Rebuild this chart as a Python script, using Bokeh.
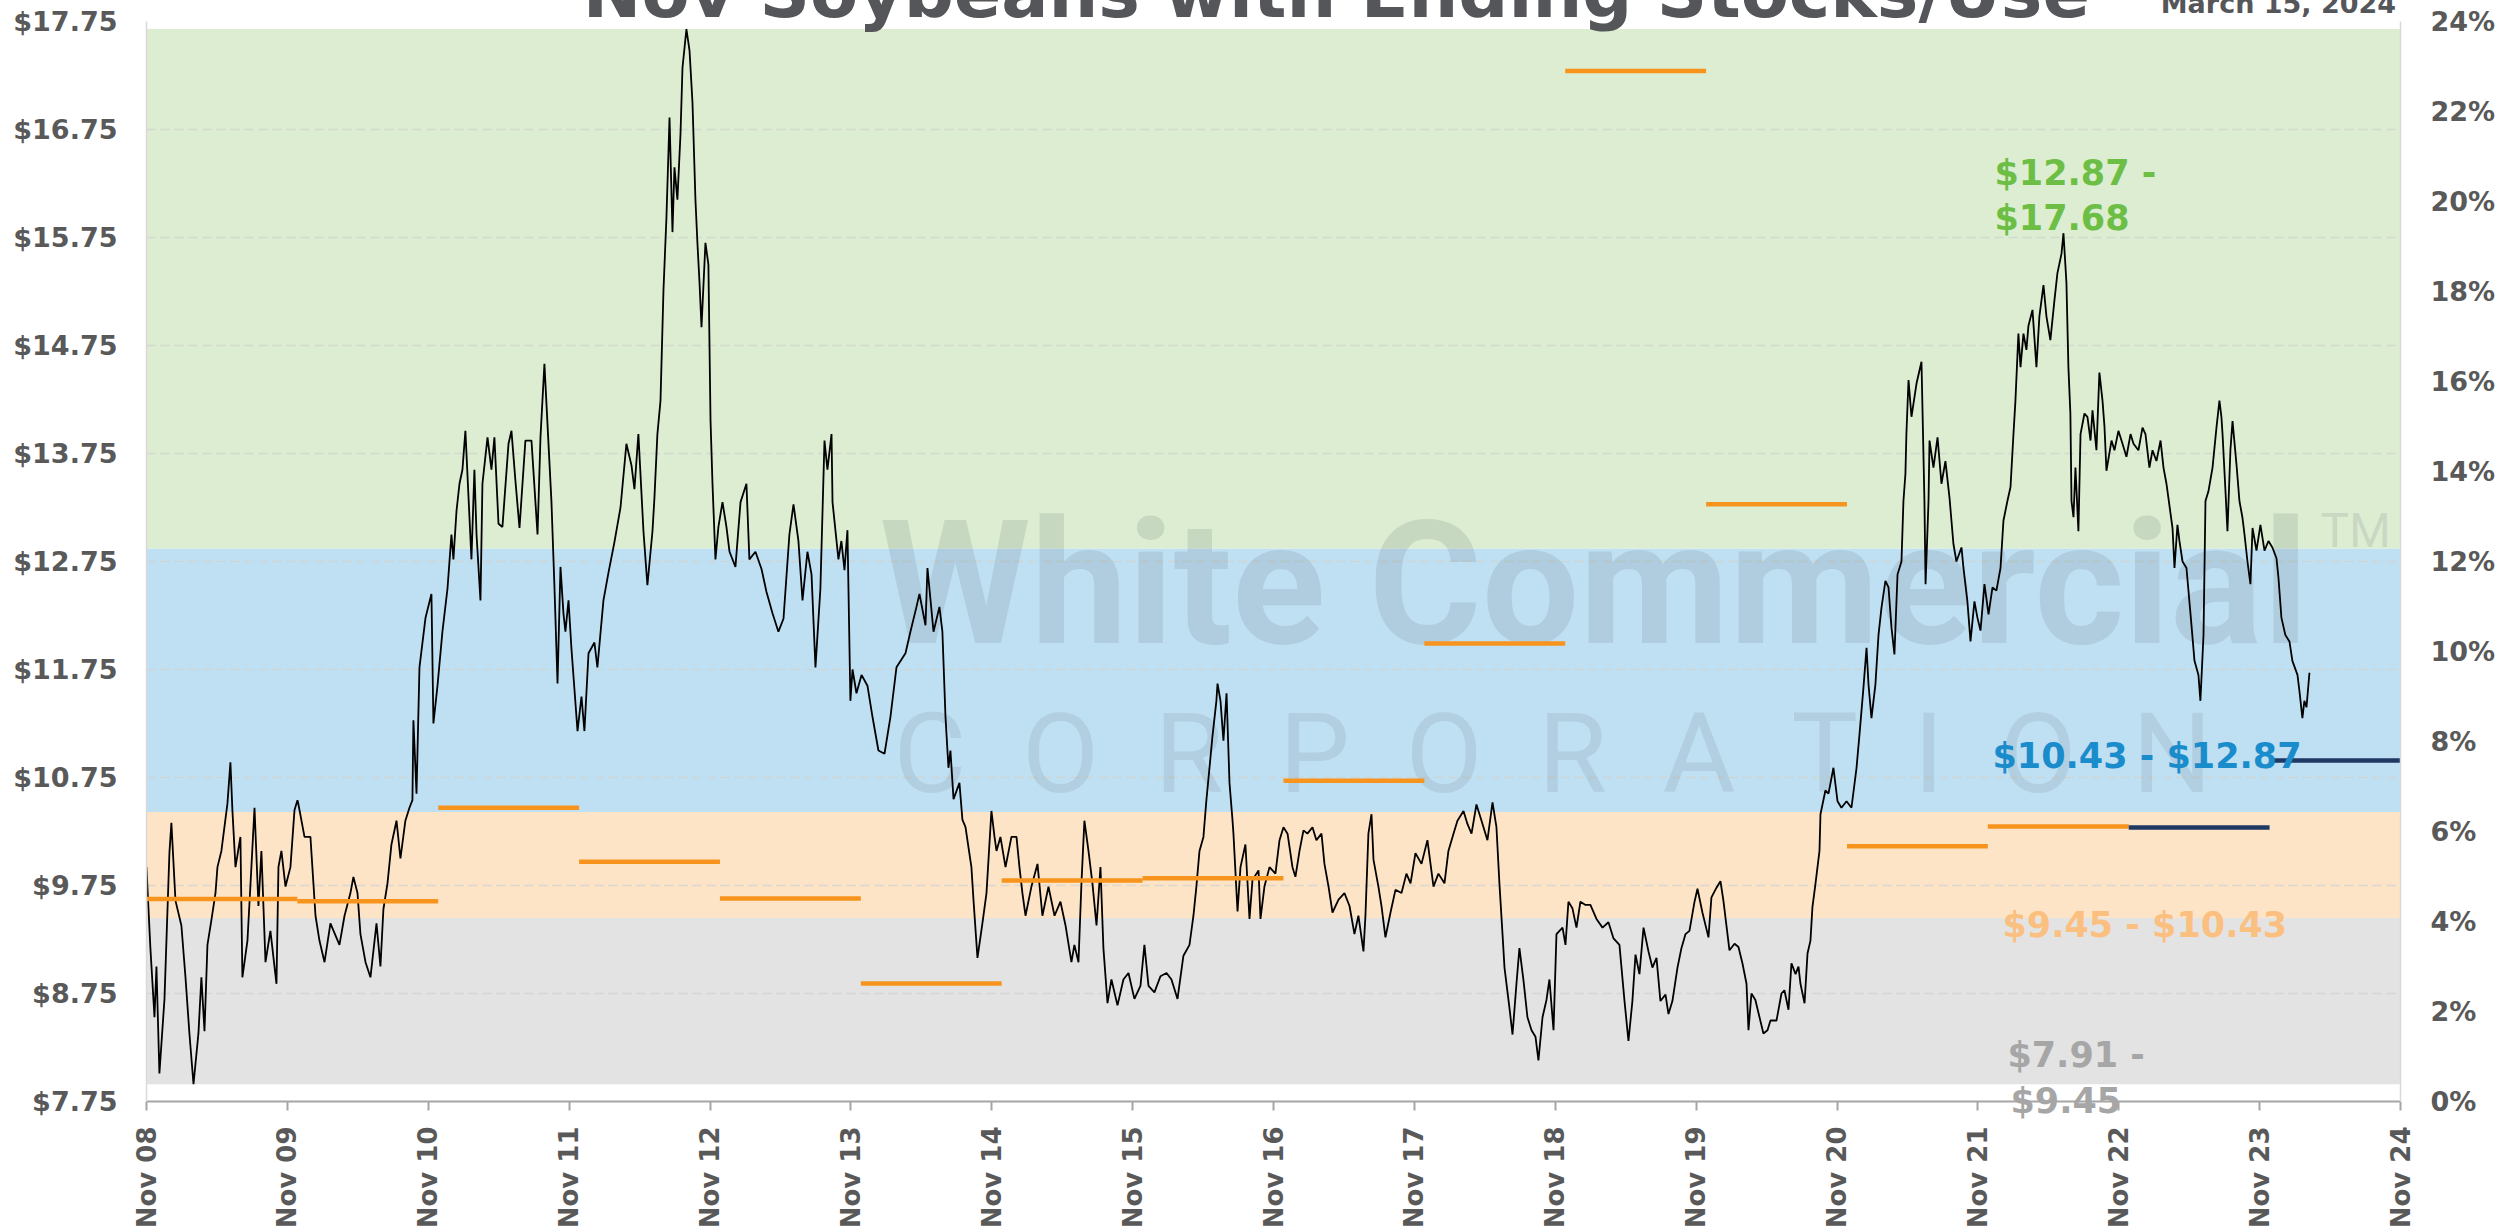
import math
from bokeh.plotting import figure
from bokeh.models import (Range1d, LinearAxis, FixedTicker, NumeralTickFormatter,
                          CustomJSTickFormatter, Label)
from bokeh.embed import file_html
from bokeh.resources import INLINE

# ---------------- data ----------------
TITLE = "Nov Soybeans with Ending Stocks/Use"
DATE_TEXT = "March 15, 2024"

tick_years = list(range(2008, 2025))          # x ticks at Nov of each year
NOV = 10 / 12                                 # Nov 1 as a fraction of the year
price_ticks = [7.75 + i for i in range(11)]   # $7.75 ... $17.75
pct_ticks = list(range(0, 25, 2))             # 0% ... 24%

# price bands ($/bu)
band_lo = [7.91, 9.45, 10.43, 12.87]
band_hi = [9.45, 10.43, 12.87, 17.68]

# ending stocks / use (%) by marketing year, start of each segment (decimal year)
su_year = ["08/09", "09/10", "10/11", "11/12", "12/13", "13/14", "14/15", "15/16",
           "16/17", "17/18", "18/19", "19/20", "20/21", "21/22", "22/23", "23/24"]
su_start = [2008.833, 2009.904, 2010.904, 2011.904, 2012.904, 2013.904, 2014.904, 2015.904,
            2016.904, 2017.904, 2018.904, 2019.904, 2020.904, 2021.904, 2022.904, 2023.904]
su_pct = [4.50, 4.45, 6.53, 5.33, 4.51, 2.62, 4.91, 4.96,
          7.13, 10.18, 22.9, 13.27, 5.67, 6.11, 6.09, 7.58]
su_status = ["final"] * 14 + ["latest"] * 2

# continuous Nov soybean futures (decimal year, $/bu)
price_t = [
 2008.833, 2008.861, 2008.890, 2008.904, 2008.925, 2008.961, 2008.975, 2008.996, 2009.010, 2009.039,
 2009.081, 2009.110, 2009.138, 2009.167, 2009.202, 2009.223, 2009.245, 2009.266, 2009.294, 2009.323,
 2009.337, 2009.365, 2009.408, 2009.429, 2009.443, 2009.465, 2009.500, 2009.514, 2009.550, 2009.578,
 2009.600, 2009.628, 2009.649, 2009.678, 2009.713, 2009.756, 2009.770, 2009.791, 2009.820, 2009.855,
 2009.884, 2009.905, 2009.912, 2009.955, 2009.997, 2010.033, 2010.061, 2010.097, 2010.139, 2010.203,
 2010.239, 2010.281, 2010.302, 2010.331, 2010.352, 2010.388, 2010.423, 2010.466, 2010.494, 2010.515,
 2010.544, 2010.572, 2010.608, 2010.636, 2010.671, 2010.700, 2010.721, 2010.728, 2010.750, 2010.771,
 2010.814, 2010.856, 2010.870, 2010.899, 2010.934, 2010.970, 2010.998, 2011.012, 2011.034, 2011.055,
 2011.076, 2011.097, 2011.140, 2011.161, 2011.176, 2011.204, 2011.218, 2011.254, 2011.282, 2011.303,
 2011.332, 2011.360, 2011.403, 2011.424, 2011.452, 2011.481, 2011.523, 2011.566, 2011.609, 2011.630,
 2011.658, 2011.708, 2011.729, 2011.751, 2011.772, 2011.793, 2011.807, 2011.829, 2011.850, 2011.893,
 2011.921, 2011.942, 2011.971, 2012.013, 2012.034, 2012.077, 2012.113, 2012.155, 2012.198, 2012.240,
 2012.276, 2012.297, 2012.325, 2012.361, 2012.389, 2012.425, 2012.439, 2012.460, 2012.482, 2012.503,
 2012.524, 2012.546, 2012.567, 2012.581, 2012.602, 2012.624, 2012.638, 2012.666, 2012.688, 2012.709,
 2012.730, 2012.744, 2012.759, 2012.773, 2012.801, 2012.822, 2012.837, 2012.851, 2012.872, 2012.893,
 2012.922, 2012.950, 2012.972, 2013.014, 2013.050, 2013.092, 2013.113, 2013.156, 2013.199, 2013.234,
 2013.277, 2013.319, 2013.355, 2013.397, 2013.426, 2013.461, 2013.490, 2013.525, 2013.554, 2013.582,
 2013.617, 2013.646, 2013.667, 2013.696, 2013.703, 2013.745, 2013.766, 2013.788, 2013.809, 2013.830,
 2013.845, 2013.873, 2013.909, 2013.951, 2013.987, 2014.029, 2014.072, 2014.114, 2014.157, 2014.221,
 2014.256, 2014.299, 2014.320, 2014.363, 2014.377, 2014.420, 2014.462, 2014.483, 2014.505, 2014.526,
 2014.540, 2014.562, 2014.604, 2014.625, 2014.647, 2014.689, 2014.704, 2014.732, 2014.767, 2014.796,
 2014.831, 2014.853, 2014.867, 2014.895, 2014.931, 2014.973, 2015.009, 2015.030, 2015.051, 2015.073,
 2015.115, 2015.158, 2015.193, 2015.236, 2015.279, 2015.321, 2015.357, 2015.399, 2015.420, 2015.449,
 2015.470, 2015.491, 2015.520, 2015.548, 2015.577, 2015.605, 2015.626, 2015.655, 2015.683, 2015.726,
 2015.768, 2015.804, 2015.846, 2015.889, 2015.917, 2015.946, 2015.988, 2016.031, 2016.074, 2016.109,
 2016.152, 2016.194, 2016.237, 2016.265, 2016.286, 2016.308, 2016.336, 2016.357, 2016.400, 2016.428,
 2016.436, 2016.457, 2016.478, 2016.500, 2016.521, 2016.542, 2016.549, 2016.578, 2016.599, 2016.634,
 2016.663, 2016.684, 2016.727, 2016.741, 2016.769, 2016.805, 2016.847, 2016.876, 2016.904, 2016.933,
 2016.968, 2016.989, 2017.018, 2017.046, 2017.074, 2017.110, 2017.138, 2017.174, 2017.195, 2017.224,
 2017.252, 2017.295, 2017.337, 2017.373, 2017.408, 2017.436, 2017.472, 2017.486, 2017.507, 2017.529,
 2017.543, 2017.578, 2017.600, 2017.628, 2017.664, 2017.699, 2017.742, 2017.777, 2017.806, 2017.841,
 2017.884, 2017.926, 2017.969, 2018.004, 2018.047, 2018.075, 2018.111, 2018.139, 2018.182, 2018.210,
 2018.239, 2018.274, 2018.310, 2018.352, 2018.388, 2018.416, 2018.437, 2018.459, 2018.473, 2018.508,
 2018.530, 2018.558, 2018.579, 2018.608, 2018.636, 2018.665, 2018.693, 2018.714, 2018.743, 2018.771,
 2018.792, 2018.821, 2018.842, 2018.885, 2018.906, 2018.927, 2018.955, 2018.984, 2019.012, 2019.048,
 2019.083, 2019.126, 2019.169, 2019.211, 2019.247, 2019.289, 2019.325, 2019.353, 2019.381, 2019.403,
 2019.431, 2019.460, 2019.495, 2019.523, 2019.552, 2019.580, 2019.616, 2019.637, 2019.665, 2019.701,
 2019.729, 2019.758, 2019.786, 2019.822, 2019.843, 2019.878, 2019.921, 2019.942, 2019.978, 2020.006,
 2020.027, 2020.070, 2020.106, 2020.134, 2020.162, 2020.191, 2020.205, 2020.226, 2020.254, 2020.276,
 2020.311, 2020.340, 2020.361, 2020.404, 2020.439, 2020.460, 2020.489, 2020.510, 2020.539, 2020.560,
 2020.574, 2020.603, 2020.624, 2020.645, 2020.659, 2020.680, 2020.709, 2020.716, 2020.751, 2020.773,
 2020.808, 2020.837, 2020.865, 2020.901, 2020.936, 2020.972, 2020.993, 2021.021, 2021.043, 2021.057,
 2021.078, 2021.106, 2021.128, 2021.149, 2021.177, 2021.199, 2021.220, 2021.241, 2021.263, 2021.291,
 2021.305, 2021.319, 2021.326, 2021.341, 2021.362, 2021.398, 2021.433, 2021.454, 2021.462, 2021.483,
 2021.490, 2021.518, 2021.547, 2021.575, 2021.603, 2021.632, 2021.660, 2021.681, 2021.717, 2021.731,
 2021.759, 2021.781, 2021.809, 2021.830, 2021.852, 2021.880, 2021.909, 2021.937, 2021.965, 2021.994,
 2022.015, 2022.043, 2022.065, 2022.086, 2022.100, 2022.121, 2022.136, 2022.157, 2022.178, 2022.192,
 2022.221, 2022.249, 2022.270, 2022.299, 2022.320, 2022.348, 2022.377, 2022.398, 2022.427, 2022.441,
 2022.462, 2022.476, 2022.490, 2022.498, 2022.512, 2022.526, 2022.547, 2022.562, 2022.590, 2022.611,
 2022.633, 2022.647, 2022.675, 2022.696, 2022.718, 2022.732, 2022.746, 2022.782, 2022.803, 2022.831,
 2022.860, 2022.888, 2022.917, 2022.938, 2022.973, 2023.002, 2023.023, 2023.051, 2023.073, 2023.101,
 2023.130, 2023.151, 2023.172, 2023.215, 2023.229, 2023.250, 2023.264, 2023.286, 2023.314, 2023.343,
 2023.371, 2023.399, 2023.413, 2023.435, 2023.449, 2023.470, 2023.499, 2023.527, 2023.548, 2023.562,
 2023.570, 2023.591, 2023.605, 2023.626, 2023.641, 2023.669, 2023.690, 2023.711, 2023.726, 2023.747,
 2023.768, 2023.783, 2023.811, 2023.839, 2023.868, 2023.896, 2023.924, 2023.953, 2023.967, 2023.988,
 2024.016, 2024.045, 2024.066, 2024.102, 2024.116, 2024.137, 2024.151, 2024.166, 2024.187,
]
price_v = [
 9.92, 9.17, 8.53, 9.00, 8.01, 8.70, 9.24, 10.05, 10.33, 9.61,
 9.38, 8.90, 8.38, 7.91, 8.38, 8.90, 8.40, 9.20, 9.43, 9.68,
 9.92, 10.07, 10.51, 10.89, 10.45, 9.92, 10.20, 8.90, 9.24, 9.92,
 10.47, 9.56, 10.07, 9.04, 9.33, 8.84, 9.92, 10.07, 9.74, 9.92,
 10.45, 10.54, 10.50, 10.20, 10.20, 9.47, 9.24, 9.04, 9.40, 9.20,
 9.47, 9.68, 9.83, 9.68, 9.30, 9.04, 8.90, 9.40, 9.00, 9.53,
 9.77, 10.13, 10.35, 10.00, 10.35, 10.47, 10.54, 11.28, 10.60, 11.77,
 12.23, 12.45, 11.25, 11.60, 12.10, 12.50, 13.00, 12.77, 13.22, 13.47,
 13.60, 13.96, 12.77, 13.60, 13.00, 12.39, 13.47, 13.90, 13.60, 13.90,
 13.10, 13.07, 13.84, 13.96, 13.50, 13.06, 13.87, 13.87, 13.00, 13.90,
 14.58, 13.30, 12.52, 11.62, 12.70, 12.27, 12.10, 12.39, 11.94, 11.18,
 11.50, 11.18, 11.90, 12.00, 11.77, 12.39, 12.65, 12.93, 13.25, 13.84,
 13.64, 13.42, 13.93, 13.03, 12.53, 13.03, 13.34, 13.93, 14.24, 15.26,
 15.93, 16.86, 15.80, 16.40, 16.10, 16.71, 17.32, 17.68, 17.48, 17.00,
 16.10, 15.70, 15.33, 14.92, 15.70, 15.50, 14.06, 13.47, 12.77, 13.07,
 13.30, 13.07, 12.84, 12.70, 13.30, 13.47, 12.77, 12.84, 12.68, 12.47,
 12.27, 12.10, 12.22, 13.00, 13.28, 12.94, 12.39, 12.84, 12.63, 11.77,
 12.50, 13.87, 13.60, 13.93, 13.30, 12.77, 12.94, 12.67, 13.04, 11.46,
 11.75, 11.53, 11.70, 11.60, 11.31, 11.00, 10.97, 11.31, 11.77, 11.90,
 12.10, 12.33, 12.45, 12.16, 12.69, 12.10, 12.33, 12.10, 11.31, 10.84,
 11.00, 10.55, 10.70, 10.36, 10.29, 9.92, 9.61, 9.08, 9.40, 9.68,
 10.44, 10.20, 10.07, 10.20, 9.92, 10.20, 10.20, 9.92, 9.68, 9.47,
 9.74, 9.95, 9.47, 9.74, 9.47, 9.60, 9.38, 9.04, 9.20, 9.04,
 9.77, 10.35, 10.07, 9.77, 9.38, 9.92, 9.17, 8.66, 8.88, 8.64,
 8.88, 8.94, 8.70, 8.82, 9.20, 8.82, 8.76, 8.91, 8.94, 8.88,
 8.70, 9.10, 9.20, 9.47, 9.74, 10.07, 10.20, 10.54, 11.13, 11.46,
 11.62, 11.46, 11.09, 11.53, 10.70, 10.36, 10.23, 9.51, 9.92, 10.13,
 9.44, 9.80, 9.89, 9.44, 9.74, 9.92, 9.86, 10.17, 10.29, 10.23,
 9.92, 9.83, 10.07, 10.26, 10.23, 10.29, 10.17, 10.23, 9.95, 9.74,
 9.50, 9.62, 9.68, 9.56, 9.30, 9.47, 9.14, 9.47, 10.23, 10.41,
 9.99, 9.74, 9.56, 9.27, 9.50, 9.71, 9.68, 9.86, 9.77, 10.05,
 9.95, 10.17, 9.74, 9.86, 9.77, 10.07, 10.23, 10.35, 10.44, 10.32,
 10.23, 10.50, 10.35, 10.17, 10.52, 10.29, 9.77, 9.30, 8.99, 8.62,
 8.37, 8.84, 9.17, 8.87, 8.53, 8.41, 8.35, 8.13, 8.53, 8.69,
 8.88, 8.41, 9.30, 9.36, 9.20, 9.60, 9.54, 9.36, 9.60, 9.57,
 9.57, 9.44, 9.36, 9.41, 9.26, 9.20, 8.68, 8.31, 8.68, 9.11,
 8.93, 9.36, 9.14, 8.99, 9.08, 8.68, 8.74, 8.56, 8.68, 8.99,
 9.17, 9.30, 9.33, 9.60, 9.72, 9.50, 9.27, 9.64, 9.73, 9.79,
 9.61, 9.15, 9.21, 9.18, 9.03, 8.84, 8.41, 8.75, 8.69, 8.57,
 8.38, 8.41, 8.50, 8.50, 8.75, 8.78, 8.60, 9.03, 8.93, 9.00,
 8.84, 8.66, 9.12, 9.24, 9.55, 9.76, 10.07, 10.41, 10.63, 10.60,
 10.84, 10.53, 10.47, 10.53, 10.47, 10.84, 11.15, 11.58, 11.95, 11.61,
 11.30, 11.61, 12.07, 12.32, 12.57, 12.51, 12.14, 11.89, 12.63, 12.75,
 13.31, 13.56, 13.93, 14.43, 14.09, 14.40, 14.60, 13.31, 12.54, 13.31,
 13.87, 13.62, 13.90, 13.47, 13.68, 13.34, 12.91, 12.75, 12.88, 12.69,
 12.38, 12.01, 12.38, 12.23, 12.11, 12.54, 12.26, 12.51, 12.48, 12.69,
 13.13, 13.31, 13.44, 13.93, 14.24, 14.86, 14.55, 14.86, 14.71, 14.93,
 15.08, 14.55, 15.02, 15.31, 15.02, 14.80, 15.17, 15.42, 15.60, 15.79,
 15.33, 14.55, 14.12, 13.31, 13.16, 13.62, 13.03, 13.93, 14.12, 14.09,
 13.87, 14.15, 13.78, 14.50, 14.24, 14.00, 13.59, 13.87, 13.78, 13.96,
 13.84, 13.72, 13.93, 13.84, 13.78, 13.99, 13.93, 13.62, 13.78, 13.68,
 13.87, 13.62, 13.47, 13.06, 12.69, 13.09, 12.94, 12.75, 12.69, 12.26,
 11.83, 11.70, 11.46, 12.07, 13.31, 13.40, 13.62, 13.99, 14.24, 14.09,
 13.93, 13.40, 13.03, 13.78, 14.05, 13.65, 13.31, 13.16, 13.00, 12.75,
 12.54, 13.06, 12.85, 13.09, 12.85, 12.94, 12.88, 12.78, 12.60, 12.23,
 12.07, 12.01, 11.83, 11.70, 11.55, 11.30, 11.46, 11.40, 11.72,
]

# ---------------- styling ----------------
FONT = "DejaVu Sans"
AX_COLOR = "#595959"
TITLE_COLOR = "#55565a"
band_colors = ["#e3e3e3", "#fde4c6", "#bfe0f3", "#dcedd1"]
band_text_colors = ["#a6a6a6", "#fbbf80", "#1a8ccc", "#6cbe45"]
status_colors = {"final": "#f7941d", "latest": "#1f3864"}

x_start = tick_years[0] + NOV
x_end = tick_years[-1] + NOV

p = figure(width=2510, height=1232,
           x_range=Range1d(x_start, x_end), y_range=Range1d(price_ticks[0], price_ticks[-1]),
           output_backend="svg", toolbar_location=None,
           min_border_left=146, min_border_right=110, min_border_top=21, min_border_bottom=131,
           background_fill_color="white", border_fill_color="white", outline_line_color=None)
p.extra_y_ranges = {"pct": Range1d(pct_ticks[0], pct_ticks[-1])}

# bands (below grid)
p.quad(left=[x_start] * len(band_lo), right=[x_end] * len(band_lo),
       bottom=band_lo, top=band_hi, fill_color=band_colors, line_color=None, level="image")

# grid
p.xgrid.visible = False
p.ygrid.ticker = FixedTicker(ticks=price_ticks)
p.ygrid.grid_line_color = "#cfd3cf"
p.ygrid.grid_line_dash = "9 5"
p.ygrid.grid_line_width = 1.5
p.ygrid.grid_line_alpha = 0.8

# watermark
wm_color = "#5f6b73"
p.add_layout(Label(x=2014.036, y=12.546, text="White Commercial", text_font="Roboto",
                   text_font_style="bold", text_font_size="173px", text_color=wm_color,
                   text_alpha=0.16, text_baseline="middle", level="underlay"))
p.add_layout(Label(x=2024.265, y=13.041, text="TM", text_font="Roboto",
                   text_font_size="48px", text_color=wm_color,
                   text_alpha=0.16, text_baseline="middle", level="underlay"))
corp = "\u00a0\u00a0".join("CORPORATION")
p.add_layout(Label(x=2014.136, y=10.976, text=corp, text_font="Roboto",
                   text_font_size="112px", text_color=wm_color,
                   text_alpha=0.14, text_baseline="middle", level="underlay"))

# price
p.line(price_t, price_v, line_color="black", line_width=1.8)

# ending stocks/use segments
su_end = su_start[1:] + [su_start[-1] + 1]
p.segment(x0=su_start, x1=su_end, y0=su_pct, y1=su_pct, y_range_name="pct",
          line_color=[status_colors[s] for s in su_status], line_width=4.5, line_cap="butt")

# axes
xa = p.xaxis[0]
xa.ticker = FixedTicker(ticks=[y + NOV for y in tick_years])
xa.formatter = CustomJSTickFormatter(
    code="const y = Math.round(tick - 10/12); return 'Nov ' + String(y % 100).padStart(2, '0');")
xa.major_label_orientation = math.pi / 2
xa.axis_line_color = "#a6a6a6"
xa.axis_line_width = 2
xa.major_tick_line_color = "#a6a6a6"
xa.major_tick_line_width = 2
xa.major_tick_out = 9
xa.major_tick_in = 0
xa.minor_tick_line_color = None
xa.major_label_standoff = 16

ya = p.yaxis[0]
ya.ticker = FixedTicker(ticks=price_ticks)
ya.formatter = NumeralTickFormatter(format="$0.00")
ya.major_label_standoff = 29

yr = LinearAxis(y_range_name="pct", ticker=FixedTicker(ticks=pct_ticks),
                formatter=CustomJSTickFormatter(code="return tick.toFixed(0) + '%';"))
yr.major_label_standoff = 30
p.add_layout(yr, "right")

for ax in (ya, yr):
    ax.axis_line_color = "#d9d9d9"
    ax.axis_line_width = 1.5
    ax.major_tick_line_color = None
    ax.major_tick_out = 0
    ax.major_tick_in = 0
    ax.minor_tick_line_color = None
for ax, size in ((xa, "26px"), (ya, "27px"), (yr, "27px")):
    ax.major_label_text_font = FONT
    ax.major_label_text_font_style = "bold"
    ax.major_label_text_font_size = size
    ax.major_label_text_color = AX_COLOR


# Texts that reach outside the plot frame are drawn as single-label guide axes in the
# side panels (guides are not clipped to the frame); a large negative standoff moves the
# label to its place and keeps the axis from taking up border space.
def text_axis(side, pos, standoff, text, size, color):
    ax = LinearAxis(ticker=FixedTicker(ticks=[pos]),
                    formatter=CustomJSTickFormatter(args=dict(t=text), code="return t;"),
                    axis_line_color=None, major_tick_line_color=None,
                    minor_tick_line_color=None, major_tick_out=0, major_tick_in=0,
                    major_label_standoff=standoff, major_label_text_font=FONT,
                    major_label_text_font_style="bold", major_label_text_font_size=size,
                    major_label_text_color=color)
    p.add_layout(ax, side)


text_axis("below", 2017.28, -1280, TITLE, "70px", TITLE_COLOR)       # title, cut at top edge
text_axis("below", 2023.967, -1244, DATE_TEXT, "27px", TITLE_COLOR)  # date, cut at top edge


# band range labels
def rng(i):
    return "${:.2f}".format(band_lo[i]), "${:.2f}".format(band_hi[i])


def band_label(x, y, txt, i):
    p.add_layout(Label(x=x, y=y, text=txt, text_font=FONT, text_font_style="bold",
                       text_font_size="35px", text_color=band_text_colors[i],
                       text_baseline="middle"))


lo, hi = rng(3)
band_label(2021.951, 16.343, lo + " -", 3)
band_label(2021.951, 15.927, hi, 3)
lo, hi = rng(2)
band_label(2021.937, 10.945, lo + " - " + hi, 2)
lo, hi = rng(1)
band_label(2022.008, 9.381, lo + " - " + hi, 1)
lo, hi = rng(0)
band_label(2022.043, 8.177, lo + " -", 0)
text_axis("right", 7.7509, -488, hi, "35px", band_text_colors[0])   # crosses the x axis

open("out.html", "w").write(file_html(p, INLINE))
